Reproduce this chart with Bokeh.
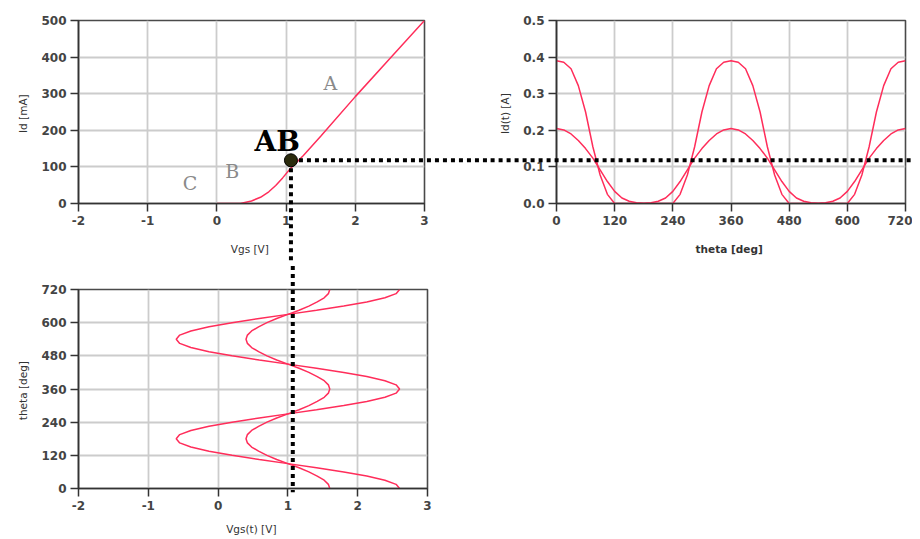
from bokeh.plotting import figure
from bokeh.layouts import column, row
from bokeh.models import Range1d, Label, FixedTicker, NumeralTickFormatter
from bokeh.embed import file_html
from bokeh.resources import INLINE

# ---------------- data ----------------
# DC transfer characteristic Id(Vgs)
vgs_dc = [0.0, 0.34, 0.5, 0.63, 0.75, 0.85, 0.95, 1.06, 1.25, 1.5, 2.0, 2.5, 3.0]
id_dc_ma = [0, 0, 7, 17, 32, 49, 70, 95, 131, 184, 292, 396, 500]

# quiescent (bias) point
vgs_q = 1.07
id_q_ma = 118

# phase angle (deg)
theta = [0, 15, 30, 45, 60, 75, 90, 105, 120, 135, 150, 165, 180, 195, 210, 225, 240,
         255, 270, 285, 300, 315, 330, 345, 360, 375, 390, 405, 420, 435, 450, 465, 480,
         495, 510, 525, 540, 555, 570, 585, 600, 615, 630, 645, 660, 675, 690, 705, 720]

# gate drive waveforms Vgs(t) (V)
vgs_t_large = [2.60, 2.55, 2.39, 2.13, 1.80, 1.41, 1.00, 0.59, 0.20, -0.13, -0.39, -0.55, -0.60,
               -0.55, -0.39, -0.13, 0.20, 0.59, 1.00, 1.41, 1.80, 2.13, 2.39, 2.55, 2.60,
               2.55, 2.39, 2.13, 1.80, 1.41, 1.00, 0.59, 0.20, -0.13, -0.39, -0.55, -0.60,
               -0.55, -0.39, -0.13, 0.20, 0.59, 1.00, 1.41, 1.80, 2.13, 2.39, 2.55, 2.60]
vgs_t_small = [1.60, 1.58, 1.52, 1.42, 1.30, 1.16, 1.00, 0.84, 0.70, 0.58, 0.48, 0.42, 0.40,
               0.42, 0.48, 0.58, 0.70, 0.84, 1.00, 1.16, 1.30, 1.42, 1.52, 1.58, 1.60,
               1.58, 1.52, 1.42, 1.30, 1.16, 1.00, 0.84, 0.70, 0.58, 0.48, 0.42, 0.40,
               0.42, 0.48, 0.58, 0.70, 0.84, 1.00, 1.16, 1.30, 1.42, 1.52, 1.58, 1.60]

# drain current waveforms Id(t) (A)
id_t_large = [0.390, 0.386, 0.368, 0.322, 0.250, 0.155, 0.078, 0.025, 0.0, 0.0, 0.0, 0.0, 0.0,
              0.0, 0.0, 0.0, 0.0, 0.025, 0.078, 0.155, 0.250, 0.322, 0.368, 0.386, 0.390,
              0.386, 0.368, 0.322, 0.250, 0.155, 0.078, 0.025, 0.0, 0.0, 0.0, 0.0, 0.0,
              0.0, 0.0, 0.0, 0.0, 0.025, 0.078, 0.155, 0.250, 0.322, 0.368, 0.386, 0.390]
id_t_small = [0.205, 0.201, 0.190, 0.172, 0.150, 0.124, 0.092, 0.060, 0.033, 0.015, 0.006, 0.002, 0.001,
              0.002, 0.006, 0.015, 0.033, 0.060, 0.092, 0.124, 0.150, 0.172, 0.190, 0.201, 0.205,
              0.201, 0.190, 0.172, 0.150, 0.124, 0.092, 0.060, 0.033, 0.015, 0.006, 0.002, 0.001,
              0.002, 0.006, 0.015, 0.033, 0.060, 0.092, 0.124, 0.150, 0.172, 0.190, 0.201, 0.205]

vgs_ticks = [-2, -1, 0, 1, 2, 3]
vgs_tick_labels = {-2: "-2", -1: "-1", 0: "0", 1: "1", 2: "2", 3: "3"}
id_ticks = [0, 100, 200, 300, 400, 500]
idt_ticks = [0.0, 0.1, 0.2, 0.3, 0.4, 0.5]
theta_ticks = [0, 120, 240, 360, 480, 600, 720]

# ---------------- style ----------------
RED = "#ff2d5a"
FONT = "DejaVu Sans"


def style(p, xticks, yticks, xlabel, ylabel, xbold=False):
    p.xaxis.ticker = FixedTicker(ticks=xticks)
    p.yaxis.ticker = FixedTicker(ticks=yticks)
    p.xaxis.axis_label = xlabel
    p.yaxis.axis_label = ylabel
    for ax in (p.xaxis, p.yaxis):
        ax.major_label_text_font = FONT
        ax.major_label_text_font_size = "12px"
        ax.major_label_text_font_style = "bold"
        ax.major_label_text_color = "#444444"
        ax.axis_label_text_font = FONT
        ax.axis_label_text_font_size = "10.5px"
        ax.axis_label_text_font_style = "normal"
        ax.axis_label_text_color = "#333333"
        ax.axis_line_color = "#333333"
        ax.axis_line_width = 1.6
        ax.major_tick_line_color = "#333333"
        ax.major_tick_line_width = 1.5
        ax.major_tick_in = 0
        ax.major_tick_out = 8
        ax.minor_tick_line_color = None
    p.xaxis.major_label_standoff = 4
    p.yaxis.major_label_standoff = 4
    if xbold:
        p.xaxis.axis_label_text_font_style = "bold"
    p.xaxis.axis_label_standoff = 15
    p.yaxis.axis_label_standoff = 9
    p.grid.grid_line_color = "#cccccc"
    p.grid.grid_line_width = 1.8
    p.outline_line_color = "#4a4a4a"
    p.outline_line_width = 1.6
    p.background_fill_color = "white"
    p.border_fill_color = "white"


def dotted(p, xs, ys, xe, ye):
    # overlay-level glyph so that the guide runs through the axis borders too
    r = p.segment(x0=[xs], y0=[ys], x1=[xe], y1=[ye],
                  line_color="black", line_width=4, line_dash="4 4")
    r.level = "overlay"
    return r


# ---------------- top-left: Id vs Vgs ----------------
p1 = figure(width=490, height=262, x_range=Range1d(-2, 3), y_range=Range1d(0, 500),
            output_backend="svg", toolbar_location=None,
            min_border_left=78, min_border_right=66, min_border_top=20, min_border_bottom=59)
style(p1, vgs_ticks, id_ticks, "Vgs  [V]", "Id  [mA]")
p1.xaxis.major_label_overrides = vgs_tick_labels
p1.line(vgs_dc, id_dc_ma, line_color=RED, line_width=1.5)
dotted(p1, vgs_q, id_q_ma, vgs_q, -600)
dotted(p1, vgs_q, id_q_ma, 8, id_q_ma)
dot = p1.scatter([vgs_q], [id_q_ma], size=13, fill_color="#2a2a0c", line_color="black")
dot.level = "overlay"
for txt, x, y, size, color, st in [
    ("A", 1.64, 328, "19px", "#8a8a8a", "normal"),
    ("B", 0.22, 90, "19px", "#8a8a8a", "normal"),
    ("C", -0.39, 57, "19px", "#8a8a8a", "normal"),
    ("AB", 0.87, 170, "28px", "black", "bold"),
]:
    p1.add_layout(Label(x=x, y=y, text=txt, text_font="DejaVu Serif", text_font_size=size,
                        text_color=color, text_font_style=st,
                        text_align="center", text_baseline="middle"))

# ---------------- top-right: Id(t) vs theta ----------------
p2 = figure(width=422, height=262, x_range=Range1d(0, 720), y_range=Range1d(0, 0.5),
            output_backend="svg", toolbar_location=None,
            min_border_left=66, min_border_right=7, min_border_top=20, min_border_bottom=59)
style(p2, theta_ticks, idt_ticks, "theta  [deg]", "Id(t)  [A]", xbold=True)
p2.yaxis.formatter = NumeralTickFormatter(format="0.0")
p2.line(theta, id_t_large, line_color=RED, line_width=1.5)
p2.line(theta, id_t_small, line_color=RED, line_width=1.5)
dotted(p2, -400, id_q_ma / 1000, 736, id_q_ma / 1000)

# ---------------- bottom-left: theta vs Vgs(t) ----------------
p3 = figure(width=490, height=276, x_range=Range1d(-2, 3), y_range=Range1d(0, 720),
            output_backend="svg", toolbar_location=None,
            min_border_left=78, min_border_right=63, min_border_top=27, min_border_bottom=50)
style(p3, vgs_ticks, theta_ticks, "Vgs(t)  [V]", "theta  [deg]")
p3.xaxis.major_label_overrides = vgs_tick_labels
p3.xaxis.axis_label_standoff = 10
p3.line(vgs_t_large, theta, line_color=RED, line_width=1.5)
p3.line(vgs_t_small, theta, line_color=RED, line_width=1.5)
dotted(p3, vgs_q, 1500, vgs_q, -14)

layout = column(row(p1, p2), p3)
open("out.html", "w").write(file_html(layout, INLINE))
